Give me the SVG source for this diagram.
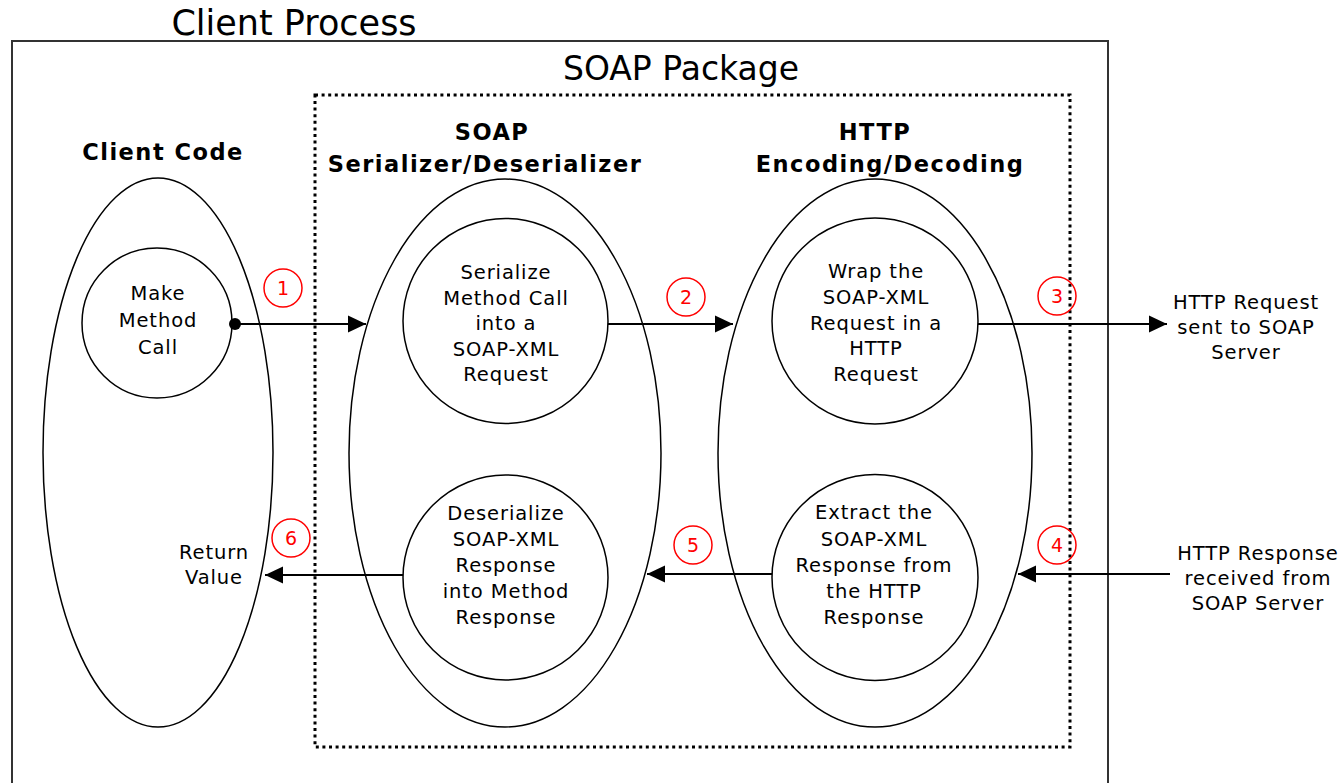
<svg xmlns="http://www.w3.org/2000/svg" width="1344" height="783" viewBox="0 0 1344 783">
<style>
.t{font-family:"DejaVu Sans",Verdana,sans-serif;font-size:19.5px;letter-spacing:0.9px;fill:#000;text-anchor:middle}
.b{font-family:"DejaVu Sans",Verdana,sans-serif;font-size:22.5px;font-weight:bold;letter-spacing:1.5px;fill:#000;text-anchor:middle}
.big{font-family:"DejaVu Sans",Verdana,sans-serif;fill:#000;text-anchor:middle}
.sh{fill:none;stroke:#000;stroke-width:1.5}
.num circle{fill:none;stroke:#f00;stroke-width:1.5}
.num text{font-family:"DejaVu Sans",Verdana,sans-serif;font-size:19px;fill:#f00;text-anchor:middle}
.ln{stroke:#000;stroke-width:2;fill:none}
</style>
<defs>
<marker id="ah" markerUnits="userSpaceOnUse" markerWidth="20" markerHeight="20" viewBox="0 0 20 20" refX="18" refY="10" orient="auto">
<path d="M0,1.5 L18,10 L0,18.5 Z" fill="#000"/>
</marker>
</defs>
<rect width="1344" height="783" fill="#fff"/>
<g id="client-process">
<path d="M12,800 V41 H1108 V800" fill="none" stroke="#333" stroke-width="2"/>
<text class="big" x="294" y="35" font-size="35">Client Process</text>
</g>
<g id="soap-package">
<rect x="315" y="95" width="755" height="652" fill="none" stroke="#000" stroke-width="3" stroke-dasharray="3 3.6"/>
<text class="big" x="681" y="80" font-size="33">SOAP Package</text>
</g>
<g id="client-code">
<ellipse class="sh" cx="158" cy="452.5" rx="115" ry="274.5"/>
<text class="b" x="163" y="160">Client Code</text>
</g>
<g id="make-method-call">
<circle class="sh" cx="157" cy="323" r="75"/>
<text class="t" x="158" y="300">Make</text>
<text class="t" x="158" y="327">Method</text>
<text class="t" x="158" y="354">Call</text>
</g>
<g id="return-value">
<text class="t" x="214" y="559">Return</text>
<text class="t" x="214" y="584">Value</text>
</g>
<g id="soap-serializer">
<ellipse class="sh" cx="505" cy="453" rx="156" ry="274"/>
<text class="b" x="492" y="140">SOAP</text>
<text class="b" x="485" y="172">Serializer/Deserializer</text>
</g>
<g id="serialize">
<circle class="sh" cx="505.5" cy="321" r="102.5"/>
<text class="t" x="506" y="279">Serialize</text>
<text class="t" x="506" y="304.5">Method Call</text>
<text class="t" x="506" y="330">into a</text>
<text class="t" x="506" y="355.5">SOAP-XML</text>
<text class="t" x="506" y="381">Request</text>
</g>
<g id="deserialize">
<circle class="sh" cx="505.5" cy="577.5" r="102.5"/>
<text class="t" x="506" y="520">Deserialize</text>
<text class="t" x="506" y="546">SOAP-XML</text>
<text class="t" x="506" y="572">Response</text>
<text class="t" x="506" y="598">into Method</text>
<text class="t" x="506" y="624">Response</text>
</g>
<g id="http-encoding">
<ellipse class="sh" cx="875" cy="453" rx="157" ry="274"/>
<text class="b" x="875" y="140">HTTP</text>
<text class="b" x="890" y="172">Encoding/Decoding</text>
</g>
<g id="wrap">
<circle class="sh" cx="875" cy="321" r="103"/>
<text class="t" x="876" y="278">Wrap the</text>
<text class="t" x="876" y="304">SOAP-XML</text>
<text class="t" x="876" y="329.5">Request in a</text>
<text class="t" x="876" y="355">HTTP</text>
<text class="t" x="876" y="380.5">Request</text>
</g>
<g id="extract">
<circle class="sh" cx="875" cy="577.5" r="103"/>
<text class="t" x="874" y="519">Extract the</text>
<text class="t" x="874" y="545.5">SOAP-XML</text>
<text class="t" x="874" y="572">Response from</text>
<text class="t" x="874" y="598">the HTTP</text>
<text class="t" x="874" y="624">Response</text>
</g>
<g id="http-request-out">
<text class="t" x="1246" y="309">HTTP Request</text>
<text class="t" x="1246" y="334">sent to SOAP</text>
<text class="t" x="1246" y="359">Server</text>
</g>
<g id="http-response-in">
<text class="t" x="1258" y="560">HTTP Response</text>
<text class="t" x="1258" y="585">received from</text>
<text class="t" x="1258" y="610">SOAP Server</text>
</g>
<g id="connectors">
<circle cx="235" cy="324" r="6" fill="#000"/>
<line class="ln" x1="235" y1="324" x2="366" y2="324" marker-end="url(#ah)"/>
<line class="ln" x1="608" y1="324" x2="733" y2="324" marker-end="url(#ah)"/>
<line class="ln" x1="978" y1="324" x2="1167" y2="324" marker-end="url(#ah)"/>
<line class="ln" x1="1170" y1="574" x2="1018" y2="574" marker-end="url(#ah)"/>
<line class="ln" x1="772" y1="574" x2="647" y2="574" marker-end="url(#ah)"/>
<line class="ln" x1="403" y1="575" x2="265" y2="575" marker-end="url(#ah)"/>
</g>
<g id="step-numbers" class="num">
<circle cx="283" cy="288" r="19"/><text x="283" y="295">1</text>
<circle cx="686" cy="297" r="19"/><text x="686" y="304">2</text>
<circle cx="1057" cy="296" r="19"/><text x="1057" y="303">3</text>
<circle cx="1057" cy="545" r="19"/><text x="1057" y="552">4</text>
<circle cx="693" cy="545" r="19"/><text x="693" y="552">5</text>
<circle cx="291" cy="538" r="19"/><text x="291" y="545">6</text>
</g>
</svg>
